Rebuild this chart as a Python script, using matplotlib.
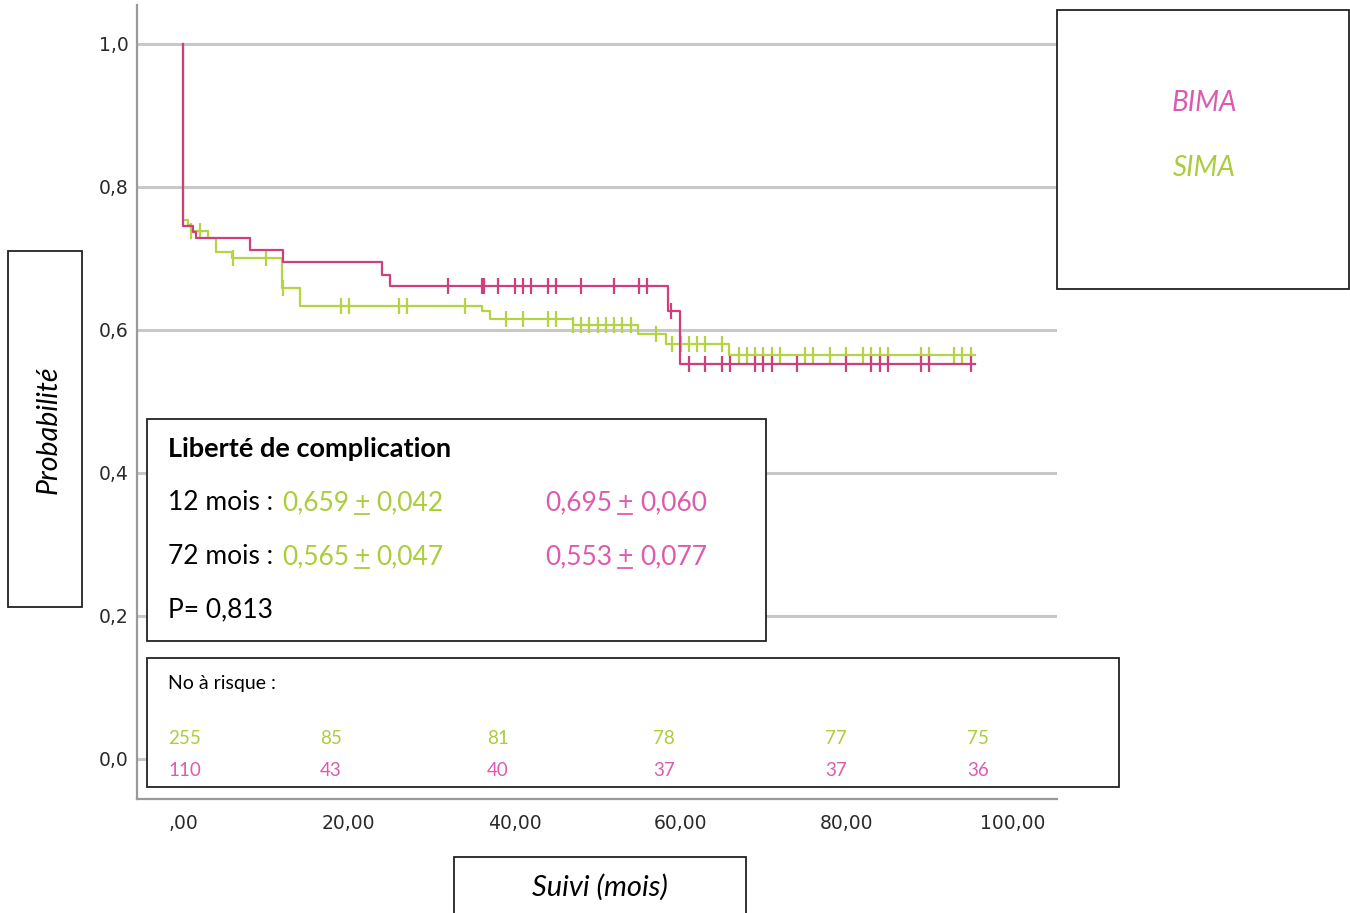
import numpy as np
import matplotlib
matplotlib.use("Agg")
import matplotlib.pyplot as plt
from matplotlib.patches import Rectangle

# -----------------------------------------------------------------------------
# Data
# -----------------------------------------------------------------------------

# SIMA (green): drop times (months) and survival after each drop
sima_drop_t = [0.0, 0.6, 1.0, 3.0, 4.0, 5.9, 11.9, 14.1, 36.0, 37.0, 47.0, 54.9, 58.3, 65.9]
sima_surv   = [0.754, 0.747, 0.739, 0.728, 0.709, 0.700, 0.658, 0.634, 0.626, 0.615, 0.607, 0.594, 0.581, 0.565]
sima_cens_t = [1, 2, 6, 10, 12, 19, 20, 26, 27, 34, 39, 41, 44, 45, 47, 48, 49, 50, 51, 52, 53, 54,
               57, 59, 60, 61, 62, 63, 65, 67, 68, 69, 70, 71, 72, 75, 76, 78, 80, 82, 83, 84, 85,
               89, 90, 93, 94, 95]
sima_end = 95.5

# BIMA (red)
bima_drop_t = [0.0, 1.2, 1.6, 8.1, 12.0, 24.0, 25.0, 58.5, 59.9]
bima_surv   = [0.746, 0.737, 0.728, 0.712, 0.695, 0.677, 0.661, 0.626, 0.553]
bima_cens_t = [32, 36, 36.3, 38, 40, 41, 42, 44, 45, 48, 52, 55, 56, 58.9, 61, 63, 65, 66, 69,
               70, 71, 74, 80, 83, 84, 85, 89, 90, 95]
bima_end = 95.5

# numbers at risk
risk_sima = [255, 85, 81, 78, 77, 75]
risk_bima = [110, 43, 40, 37, 37, 36]

x_ticks = [0, 20, 40, 60, 80, 100]
x_tick_labels = [",00", "20,00", "40,00", "60,00", "80,00", "100,00"]
y_ticks = [0.0, 0.2, 0.4, 0.6, 0.8, 1.0]
y_tick_labels = ["0,0", "0,2", "0,4", "0,6", "0,8", "1,0"]

# survival summary text
stats_12 = ("0,659", "0,042", "0,695", "0,060")
stats_72 = ("0,565", "0,047", "0,553", "0,077")
p_value = "0,813"

# -----------------------------------------------------------------------------
# Style
# -----------------------------------------------------------------------------

GREEN_LINE = "#B5D444"
RED_LINE   = "#CF3F7E"
GREEN_TXT  = "#AACD3C"
PINK_TXT   = "#DD5BAE"
GRID_C     = "#C8C8C8"
BOX_EC     = "#222222"
TXT_FONT   = "Lato"
BODY_FS    = 19

W, H = 1350, 913
fig = plt.figure(figsize=(W / 100, H / 100), dpi=100)

# main axes placed in pixel terms
ax = fig.add_axes([137 / W, 1 - 799 / H, 920 / W, 794 / H])


def km_xy(drop_t, surv, t_end):
    x = np.array([0.0] + list(drop_t) + [t_end])
    y = np.array([1.0] + list(surv) + [surv[-1]])
    return x, y


def surv_at(x, y, t):
    idx = np.searchsorted(x, t, side="right") - 1
    return y[idx]


for drop_t, surv, t_end, cens, col in [
    (sima_drop_t, sima_surv, sima_end, sima_cens_t, GREEN_LINE),
    (bima_drop_t, bima_surv, bima_end, bima_cens_t, RED_LINE),
]:
    x, y = km_xy(drop_t, surv, t_end)
    ax.step(x, y, where="post", color=col, lw=1.6, zorder=3)
    ct = np.array(cens, dtype=float)
    ax.plot(ct, surv_at(x, y, ct), ls="none", marker="|", markersize=11,
            markeredgewidth=1.6, color=col, zorder=3)

ax.set_xlim(-5.55, 105.4)
ax.set_ylim(-0.056, 1.0545)
ax.set_xticks(x_ticks)
ax.set_xticklabels(x_tick_labels, family="DejaVu Sans")
ax.set_yticks(y_ticks)
ax.set_yticklabels(y_tick_labels, family="DejaVu Sans")
ax.tick_params(axis="both", length=0, labelsize=13.5, labelcolor="#2A2A2A")
ax.tick_params(axis="y", pad=6)
ax.tick_params(axis="x", pad=10.5)
ax.yaxis.grid(True, color=GRID_C, lw=2.2)
ax.set_axisbelow(True)
for s in ["top", "right"]:
    ax.spines[s].set_visible(False)
for s in ["left", "bottom"]:
    ax.spines[s].set_color("#9A9A9A")
    ax.spines[s].set_linewidth(1.6)

# -----------------------------------------------------------------------------
# Overlay with the text boxes (pixel coordinates)
# -----------------------------------------------------------------------------

ov = fig.add_axes([0, 0, 1, 1], zorder=5)
ov.set_xlim(0, W)
ov.set_ylim(H, 0)
ov.axis("off")
ov.patch.set_alpha(0)


def box(x0, y0, x1, y1):
    ov.add_patch(Rectangle((x0, y0), x1 - x0, y1 - y0, fc="white", ec=BOX_EC, lw=1.3))


box(1057, 10, 1349, 289)
box(8, 251, 82, 607)
box(147, 419, 766, 641)
box(147, 658, 1119, 787)
box(454, 857, 746, 930)

# legend
ov.text(1204, 103, "BIMA", color=PINK_TXT, fontsize=20, style="italic",
        family=TXT_FONT, ha="center", va="center")
ov.text(1204, 168, "SIMA", color=GREEN_TXT, fontsize=20, style="italic",
        family=TXT_FONT, ha="center", va="center")

# axis titles
ov.text(49, 430, "Probabilité", rotation=90, fontsize=20.5, style="italic",
        family=TXT_FONT, ha="center", va="center")
ov.text(600, 887, "Suivi (mois)", fontsize=21, style="italic",
        family=TXT_FONT, ha="center", va="center")

# summary box
ov.text(168, 449, "Liberté de complication", fontsize=19.5, weight="bold",
        family=TXT_FONT, ha="left", va="center")


def stat_row(yc, label, vals):
    g_est, g_se, r_est, r_se = vals
    ov.text(168, yc, label, fontsize=BODY_FS, family=TXT_FONT, ha="left", va="center")
    for x_est, x_pm, x_se, est, se, col in [
        (282, 362, 376, g_est, g_se, GREEN_TXT),
        (545, 625, 640, r_est, r_se, PINK_TXT),
    ]:
        ov.text(x_est, yc, est, fontsize=BODY_FS, family=TXT_FONT, color=col, ha="left", va="center")
        ov.text(x_pm, yc, "+", fontsize=BODY_FS, family=TXT_FONT, color=col, ha="center", va="center")
        ov.plot([x_pm - 7, x_pm + 7], [yc + 11, yc + 11], color=col, lw=1.3)
        ov.text(x_se, yc, se, fontsize=BODY_FS, family=TXT_FONT, color=col, ha="left", va="center")


stat_row(503, "12 mois :", stats_12)
stat_row(557, "72 mois :", stats_72)
ov.text(168, 610, "P= " + p_value, fontsize=BODY_FS, family=TXT_FONT, ha="left", va="center")

# numbers at risk
risk_x = [168, 320, 487, 653, 825, 967]
ov.text(168, 684, "No à risque :", fontsize=14, family=TXT_FONT, ha="left", va="center")
for xp, ng, nb in zip(risk_x, risk_sima, risk_bima):
    ov.text(xp, 738, str(ng), fontsize=13.5, family=TXT_FONT, color=GREEN_TXT, ha="left", va="center")
    ov.text(xp, 770, str(nb), fontsize=13.5, family=TXT_FONT, color=PINK_TXT, ha="left", va="center")

fig.savefig("out.png", dpi=100)
